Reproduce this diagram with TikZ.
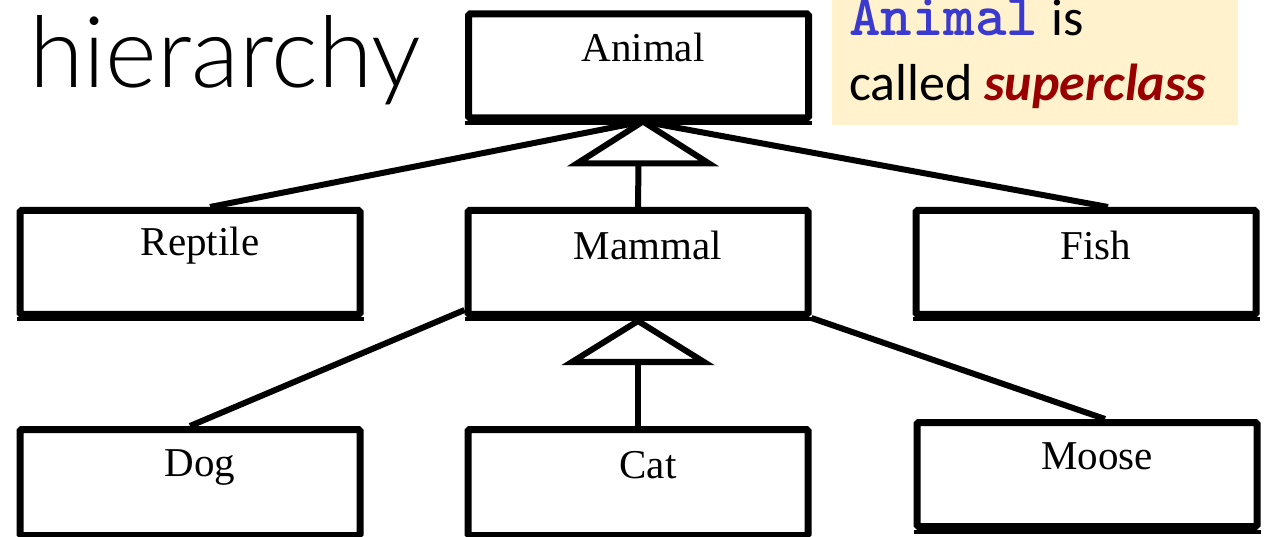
\documentclass[tikz,border=0pt]{standalone}
\usepackage{fontspec}
\setmainfont{Liberation Serif}
\newfontfamily\calibri{Carlito}
\newfontfamily\calibrilight{Lato Light}
\usetikzlibrary{calc}
\definecolor{notefill}{HTML}{FFF2CC}
\definecolor{codeblue}{HTML}{3A3AD0}
\definecolor{darkred}{HTML}{990000}
\tikzset{
  classbox/.style={draw=black, line width=7pt, fill=white, rounded corners=1.5pt, minimum width=340pt, minimum height=104pt, inner sep=0pt},
  classlbl/.style={font=\fontsize{41}{41}\selectfont, inner sep=0pt},
  conn/.style={line width=6pt},
  gen/.style={line width=6pt, fill=white, line join=miter},
  shadowline/.style={line width=4pt}
}
\begin{document}
\begin{tikzpicture}[x=1pt,y=-1pt]
\useasboundingbox (0,0) rectangle (1264,537);
% note
\node[fill=notefill, minimum width=406pt, minimum height=125pt, inner sep=0pt, anchor=north west] (note) at (832,0) {};
\node[anchor=base west, inner sep=0pt, font=\fontsize{52}{52}\selectfont] (n1) at (849,36) {{\fontsize{60}{60}\selectfont\ttfamily\bfseries\color{codeblue}Animal}\hspace{0.25em}\calibri is};
\node[anchor=base west, inner sep=0pt, font=\fontsize{52}{52}\selectfont\calibri] (n2) at (849,101) {called \textcolor{darkred}{\bfseries\itshape superclass}};
% title
\node[anchor=base west, inner sep=0pt, font=\fontsize{99}{99}\selectfont\calibrilight] (title) at (29,88) {hierarchy};
% boxes
\node[classbox] (animal) at (638.5,66) {};
\node[classbox] (reptile) at (190,262.5) {};
\node[classbox] (mammal) at (638,262.5) {};
\node[classbox] (fish) at (1086,262.5) {};
\node[classbox, minimum height=106pt] (dog) at (190,482.5) {};
\node[classbox, minimum height=106pt] (cat) at (638,482.5) {};
\node[classbox] (moose) at (1087,474.5) {};
\foreach \n in {animal,reptile,mammal,fish,dog,cat,moose}
  \draw[shadowline] ($(\n.south west)+(0,1.5)$) -- ($(\n.south east)+(0,1.5)$);
% labels
\node[classlbl] (animalt) at (643,47) {Animal};
\node[classlbl] (reptilet) at (200,246) {Reptile};
\node[classlbl] (mammalt) at (648,245) {Mammal};
\node[classlbl] (fisht) at (1096,245) {Fish};
\node[classlbl] (dogt) at (200,467) {Dog};
\node[classlbl] (catt) at (648,465) {Cat};
\node[classlbl] (mooset) at (1097,456) {Moose};
% connection points
\coordinate (a1) at ($(animal.south)+(4.5,0)$);
\coordinate (r1) at ($(reptile.north)+(20,0)$);
\coordinate (f1) at ($(fish.north)+(22,0)$);
\coordinate (m1) at ($(mammal.south)+(0,3)$);
\coordinate (mL) at ($(mammal.south west)+(0,-8)$);
\coordinate (mR) at ($(mammal.south east)+(0,0)$);
\coordinate (d1) at ($(dog.north)+(0,0)$);
\coordinate (mo1) at ($(moose.north)+(18,0)$);
% connectors level 1
\draw[conn] (a1) -- (r1);
\draw[conn] (a1) -- (f1);
\draw[conn] (mammal.north) -- ($(animal.south)+(0,42)$);
\draw[gen] (a1) -- ($(a1)+(-66,42)$) -- ($(a1)+(66,42)$) -- cycle;
% connectors level 2
\draw[conn] (mL) -- (d1);
\draw[conn] (mR) -- (mo1);
\draw[conn] (cat.north) -- ($(mammal.south)+(0,44)$);
\draw[gen] (m1) -- ($(m1)+(-66,41)$) -- ($(m1)+(66,41)$) -- cycle;
\end{tikzpicture}
\end{document}
